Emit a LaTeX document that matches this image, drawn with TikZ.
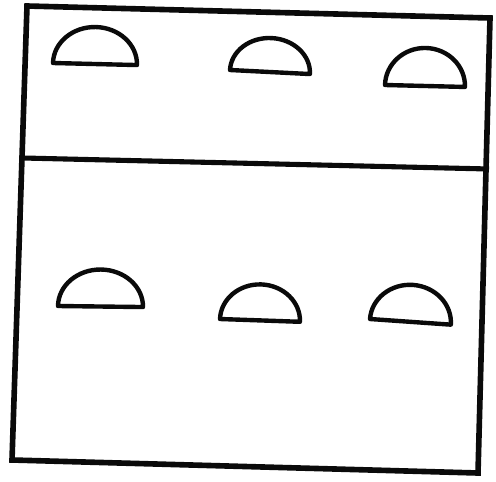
\documentclass[tikz,border=0pt]{standalone}
\usepackage{tikz}
\definecolor{ink}{HTML}{0A0A0A}
\definecolor{paper}{HTML}{FFFFFF}
\tikzset{
  frame/.style={
    draw=ink,
    line width=3.2pt,
    line join=miter
  },
  divider/.style={
    draw=ink,
    line width=2.9pt
  },
  dome/.style={
    draw=ink,
    line width=2.5pt,
    line join=round
  }
}

\begin{document}
\begin{tikzpicture}[x=0.02cm, y=0.02cm]
  \fill[paper] (0,0) rectangle (496,481);
  \useasboundingbox (0,0) rectangle (496,481);
  % outer box and the line across it
  \draw[frame] (27,475) -- (490,463) -- (478,8) -- (12,21) -- cycle;
  \draw[divider] (23,323) -- (489,312);
  % upper row
  \draw[dome, rotate around={-1.4:(53,418)}] (53,418)
    arc[start angle=180, end angle=0, x radius=42, y radius=37] -- cycle;
  \draw[dome, rotate around={-2.9:(230,411)}] (230,411)
    arc[start angle=180, end angle=0, x radius=40, y radius=34] -- cycle;
  \draw[dome, rotate around={-1.4:(385,396)}] (385,396)
    arc[start angle=180, end angle=0, x radius=40, y radius=38] -- cycle;
  % lower row
  \draw[dome, rotate around={-0.7:(58,175)}] (58,175)
    arc[start angle=180, end angle=0, x radius=42.5, y radius=37] -- cycle;
  \draw[dome, rotate around={-2:(220,162)}] (220,162)
    arc[start angle=180, end angle=0, x radius=40, y radius=36] -- cycle;
  \draw[dome, rotate around={-4:(370,162)}] (370,162)
    arc[start angle=180, end angle=0, x radius=40.5, y radius=37] -- cycle;
\end{tikzpicture}
\end{document}
